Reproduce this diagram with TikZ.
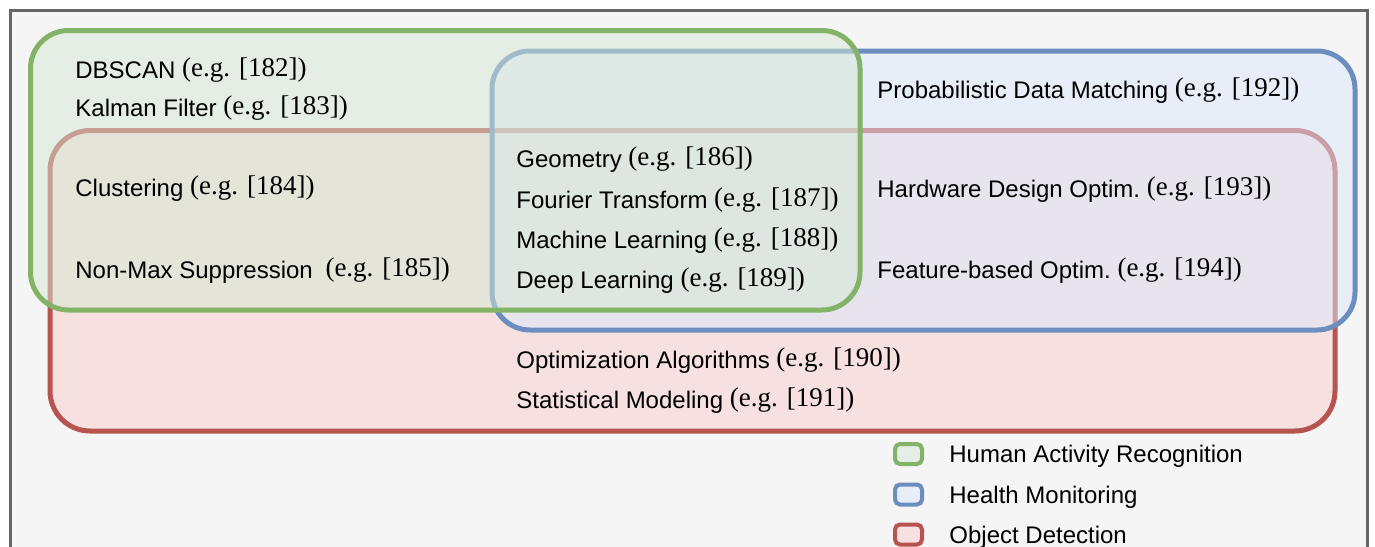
\documentclass[tikz,border=0pt]{standalone}
\usepackage{fontspec}
\setmainfont{Liberation Sans}
\newfontfamily\refsfont{Liberation Serif}
\definecolor{framegray}{HTML}{666666}
\definecolor{bggray}{HTML}{F5F5F5}
\definecolor{harline}{HTML}{82B366}
\definecolor{harfill}{HTML}{D5E8D4}
\definecolor{hmline}{HTML}{6C8EBF}
\definecolor{hmfill}{HTML}{DAE8FC}
\definecolor{odline}{HTML}{B85450}
\definecolor{odfill}{HTML}{F8CECC}
\newcommand{\egref}[1]{{\refsfont\fontsize{13.5}{16}\selectfont\raisebox{0.8pt}{(e.g. [#1])}}}
\begin{document}
\begin{tikzpicture}[x=0.5pt, y=-0.5pt,
		item/.style={anchor=base west, inner sep=0pt, font=\fontsize{12}{14}\selectfont},
		harbox/.style={draw=harline, fill=harfill, fill opacity=0.5},
		hmbox/.style={draw=hmline, fill=hmfill, fill opacity=0.5},
		odbox/.style={draw=odline, fill=odfill, fill opacity=0.5},
		keybox/.style={line width=2pt, rounded corners=2.5pt, minimum width=13.5pt, minimum height=10pt, inner sep=0pt}]
		\useasboundingbox (0,0) rectangle (1375,546);
		\clip (0,0) rectangle (1375,546);
		\fill[white] (0,0) rectangle (1375,546);
		\draw[line width=1.5pt, draw=framegray, fill=bggray] (10,10) rectangle (1367,620);
		% the three areas, bottom one first
		\draw[odbox, line width=2.5pt, rounded corners=20pt] (50,130.5) rectangle (1335,431);
		\draw[hmbox, line width=2.5pt, rounded corners=19pt] (492,51) rectangle (1355,330);
		\draw[harbox, line width=2.5pt, rounded corners=19pt] (30.5,30.5) rectangle (860,310);
		% left column
		\foreach \nm/\yy/\txt/\num in {dbscan/78.5/DBSCAN/182, kalman/116.5/Kalman Filter/183, clustering/196.5/Clustering/184}
			\node[item] (\nm) at (75,\yy) {\txt\ \egref{\num}};
		\node[item] (nonmax) at (75,278.5) {Non-Max Suppression\hspace{3pt} \egref{185}};
		% middle column
		\foreach \nm/\yy/\txt/\num in {geometry/167.5/Geometry/186, fourier/208.5/Fourier Transform/187, machine/248.5/Machine Learning/188, deep/288.5/Deep Learning/189, optimization/368.5/Optimization Algorithms/190, statistical/408.5/Statistical Modeling/191}
			\node[item] (\nm) at (516,\yy) {\txt\ \egref{\num}};
		% right column
		\foreach \nm/\yy/\txt/\num in {probabilistic/98.5/Probabilistic Data Matching/192, hardware/197.5/Hardware Design Optim./193, feature/278.5/Feature-based Optim./194}
			\node[item] (\nm) at (877,\yy) {\txt\ \egref{\num}};
		% legend
		\foreach \nm/\yy/\sty/\txt in {har/454/harbox/Human Activity Recognition, hm/494.5/hmbox/Health Monitoring, od/534.5/odbox/Object Detection} {
			\node[keybox, \sty] (key\nm) at (908.5,\yy) {};
			\node[item] (\nm) at (949,\yy+8.5) {\txt};
		}
	\end{tikzpicture}
\end{document}
